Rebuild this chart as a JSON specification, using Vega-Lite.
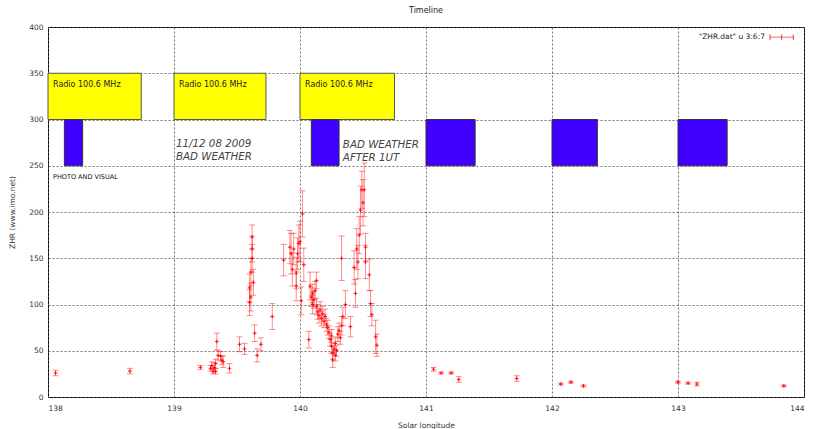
{
  "$schema": "https://vega.github.io/schema/vega-lite/v6.json",
  "width": 756,
  "height": 370,
  "autosize": "none",
  "padding": {"left": 48, "top": 27, "right": 9, "bottom": 32},
  "background": "#ffffff",
  "title": {"text": "Timeline", "fontSize": 8, "fontWeight": "normal", "font": "DejaVu Sans", "color": "#222", "offset": 8},
  "config": {
    "view": {"stroke": "#000", "strokeWidth": 1},
    "axis": {
      "labelFont": "DejaVu Sans", "labelFontSize": 7.5, "labelColor": "#333",
      "titleFont": "DejaVu Sans", "titleFontSize": 7.5, "titleFontWeight": "normal", "titleColor": "#333",
      "grid": true, "gridColor": "#555", "gridDash": [2, 2], "gridWidth": 1, "gridOpacity": 0.8,
      "ticks": false, "domain": false
    }
  },
  "datasets": {
    "zhr": [
      {"sol": 138.06, "zhr": 26, "err": 3},
      {"sol": 138.65, "zhr": 28, "err": 3},
      {"sol": 139.21, "zhr": 32, "err": 2},
      {"sol": 139.29, "zhr": 31, "err": 3},
      {"sol": 139.30, "zhr": 34, "err": 4},
      {"sol": 139.31, "zhr": 28, "err": 3},
      {"sol": 139.32, "zhr": 32, "err": 5},
      {"sol": 139.33, "zhr": 36, "err": 5},
      {"sol": 139.33, "zhr": 28, "err": 3},
      {"sol": 139.34, "zhr": 60, "err": 9},
      {"sol": 139.35, "zhr": 45, "err": 5},
      {"sol": 139.37, "zhr": 44, "err": 5},
      {"sol": 139.38, "zhr": 40, "err": 5},
      {"sol": 139.39, "zhr": 38, "err": 6},
      {"sol": 139.44, "zhr": 31, "err": 5},
      {"sol": 139.52, "zhr": 57, "err": 8},
      {"sol": 139.56, "zhr": 52, "err": 6},
      {"sol": 139.60, "zhr": 118, "err": 15},
      {"sol": 139.60, "zhr": 102, "err": 14},
      {"sol": 139.61, "zhr": 108, "err": 15},
      {"sol": 139.61, "zhr": 135, "err": 15},
      {"sol": 139.62, "zhr": 150, "err": 15},
      {"sol": 139.62, "zhr": 160, "err": 14},
      {"sol": 139.62, "zhr": 173, "err": 13},
      {"sol": 139.63, "zhr": 124, "err": 14},
      {"sol": 139.64, "zhr": 69, "err": 9},
      {"sol": 139.66, "zhr": 45, "err": 7},
      {"sol": 139.69, "zhr": 57, "err": 7},
      {"sol": 139.78, "zhr": 87, "err": 14},
      {"sol": 139.87, "zhr": 148, "err": 17},
      {"sol": 139.92, "zhr": 162, "err": 18},
      {"sol": 139.93, "zhr": 155, "err": 22},
      {"sol": 139.94, "zhr": 138, "err": 18},
      {"sol": 139.95, "zhr": 160, "err": 17},
      {"sol": 139.97, "zhr": 134, "err": 17},
      {"sol": 139.97, "zhr": 120, "err": 16},
      {"sol": 139.98, "zhr": 155, "err": 17},
      {"sol": 139.99, "zhr": 166, "err": 20},
      {"sol": 140.00, "zhr": 168, "err": 22},
      {"sol": 140.01, "zhr": 104, "err": 15},
      {"sol": 140.02, "zhr": 198, "err": 25},
      {"sol": 140.03, "zhr": 143, "err": 18},
      {"sol": 140.07, "zhr": 62, "err": 9},
      {"sol": 140.08, "zhr": 120, "err": 15},
      {"sol": 140.09, "zhr": 108, "err": 10},
      {"sol": 140.10, "zhr": 112, "err": 10},
      {"sol": 140.10, "zhr": 100, "err": 10},
      {"sol": 140.11, "zhr": 105, "err": 9},
      {"sol": 140.12, "zhr": 115, "err": 10},
      {"sol": 140.13, "zhr": 98, "err": 9},
      {"sol": 140.13, "zhr": 126, "err": 9},
      {"sol": 140.14, "zhr": 92, "err": 8},
      {"sol": 140.15, "zhr": 88, "err": 8},
      {"sol": 140.16, "zhr": 94, "err": 9},
      {"sol": 140.17, "zhr": 85, "err": 8},
      {"sol": 140.18, "zhr": 90, "err": 8},
      {"sol": 140.19, "zhr": 82, "err": 7},
      {"sol": 140.20, "zhr": 87, "err": 8},
      {"sol": 140.21, "zhr": 78, "err": 7},
      {"sol": 140.22, "zhr": 75, "err": 8},
      {"sol": 140.23, "zhr": 70, "err": 7},
      {"sol": 140.24, "zhr": 62, "err": 7},
      {"sol": 140.25, "zhr": 55, "err": 8},
      {"sol": 140.25, "zhr": 66, "err": 7},
      {"sol": 140.26, "zhr": 48, "err": 7},
      {"sol": 140.26, "zhr": 40, "err": 8},
      {"sol": 140.27, "zhr": 52, "err": 6},
      {"sol": 140.28, "zhr": 45, "err": 6},
      {"sol": 140.28, "zhr": 58, "err": 7},
      {"sol": 140.29, "zhr": 50, "err": 6},
      {"sol": 140.30, "zhr": 68, "err": 8},
      {"sol": 140.31, "zhr": 72, "err": 8},
      {"sol": 140.32, "zhr": 64, "err": 7},
      {"sol": 140.33, "zhr": 150, "err": 24},
      {"sol": 140.33, "zhr": 77, "err": 10},
      {"sol": 140.34, "zhr": 87, "err": 10},
      {"sol": 140.36, "zhr": 100, "err": 15},
      {"sol": 140.40, "zhr": 76, "err": 11},
      {"sol": 140.43, "zhr": 140, "err": 18},
      {"sol": 140.44, "zhr": 112, "err": 15},
      {"sol": 140.45, "zhr": 160, "err": 22},
      {"sol": 140.46, "zhr": 146, "err": 18},
      {"sol": 140.47, "zhr": 175, "err": 20},
      {"sol": 140.48, "zhr": 202, "err": 26},
      {"sol": 140.49, "zhr": 224, "err": 20},
      {"sol": 140.50, "zhr": 210, "err": 25},
      {"sol": 140.51, "zhr": 224, "err": 29},
      {"sol": 140.52, "zhr": 146, "err": 18},
      {"sol": 140.52, "zhr": 162, "err": 15},
      {"sol": 140.55, "zhr": 132, "err": 17},
      {"sol": 140.56, "zhr": 101, "err": 14},
      {"sol": 140.57, "zhr": 89, "err": 12},
      {"sol": 140.60, "zhr": 65, "err": 18},
      {"sol": 140.61, "zhr": 56, "err": 12},
      {"sol": 141.06, "zhr": 30, "err": 2},
      {"sol": 141.12, "zhr": 26, "err": 1},
      {"sol": 141.20, "zhr": 26, "err": 1},
      {"sol": 141.26, "zhr": 19, "err": 3},
      {"sol": 141.72, "zhr": 20, "err": 3},
      {"sol": 142.07, "zhr": 14, "err": 1},
      {"sol": 142.15, "zhr": 16, "err": 1},
      {"sol": 142.25, "zhr": 12, "err": 1},
      {"sol": 143.00, "zhr": 16, "err": 1},
      {"sol": 143.08, "zhr": 15, "err": 1},
      {"sol": 143.15, "zhr": 14, "err": 2},
      {"sol": 143.84, "zhr": 12, "err": 1}
    ],
    "radio": [
      {"x1": 138.0, "x2": 138.74, "y1": 300, "y2": 350, "label": "Radio 100.6 MHz"},
      {"x1": 139.0, "x2": 139.73, "y1": 300, "y2": 350, "label": "Radio 100.6 MHz"},
      {"x1": 140.0, "x2": 140.75, "y1": 300, "y2": 350, "label": "Radio 100.6 MHz"}
    ],
    "visual": [
      {"x1": 138.13, "x2": 138.275, "y1": 250, "y2": 300},
      {"x1": 140.09, "x2": 140.31, "y1": 250, "y2": 300},
      {"x1": 141.0, "x2": 141.39, "y1": 250, "y2": 300},
      {"x1": 142.0, "x2": 142.36, "y1": 250, "y2": 300},
      {"x1": 143.0, "x2": 143.39, "y1": 250, "y2": 300}
    ],
    "notes": [
      {"x": 139.015, "y": 274, "text": "11/12 08 2009\nBAD WEATHER"},
      {"x": 140.34, "y": 272, "text": "BAD WEATHER\nAFTER 1UT"}
    ]
  },
  "layer": [
    {
      "data": {"name": "radio"},
      "mark": {"type": "rect", "fill": "#ffff00", "stroke": "#555", "strokeWidth": 1},
      "encoding": {
        "x": {"field": "x1", "type": "quantitative", "scale": {"domain": [138, 144], "nice": false, "zero": false},
          "axis": {"values": [138, 139, 140, 141, 142, 143, 144], "title": "Solar longitude", "labelPadding": 7, "titlePadding": 10, "format": "d"}},
        "x2": {"field": "x2"},
        "y": {"field": "y1", "type": "quantitative", "scale": {"domain": [0, 400], "nice": false},
          "axis": {"values": [0, 50, 100, 150, 200, 250, 300, 350, 400], "title": "ZHR (www.imo.net)", "labelPadding": 5, "titlePadding": 12}},
        "y2": {"field": "y2"}
      }
    },
    {
      "data": {"name": "radio"},
      "mark": {"type": "text", "align": "left", "baseline": "middle", "font": "DejaVu Sans", "fontSize": 8, "color": "#222", "dx": 5},
      "encoding": {
        "x": {"field": "x1", "type": "quantitative"},
        "y": {"datum": 337, "type": "quantitative"},
        "text": {"field": "label"}
      }
    },
    {
      "data": {"name": "visual"},
      "mark": {"type": "rect", "fill": "#4000ff", "stroke": "#333", "strokeWidth": 1},
      "encoding": {
        "x": {"field": "x1", "type": "quantitative"},
        "x2": {"field": "x2"},
        "y": {"field": "y1", "type": "quantitative"},
        "y2": {"field": "y2"}
      }
    },
    {
      "data": {"name": "notes"},
      "mark": {"type": "text", "align": "left", "baseline": "middle", "font": "DejaVu Sans", "fontStyle": "italic", "fontSize": 10.3, "color": "#444", "lineBreak": "\n", "lineHeight": 13},
      "encoding": {
        "x": {"field": "x", "type": "quantitative"},
        "y": {"field": "y", "type": "quantitative"},
        "text": {"field": "text"}
      }
    },
    {
      "data": {"values": [{"x": 138.04, "y": 238, "text": "PHOTO AND VISUAL"}]},
      "mark": {"type": "text", "align": "left", "baseline": "middle", "font": "DejaVu Sans", "fontSize": 6.5, "color": "#111"},
      "encoding": {
        "x": {"field": "x", "type": "quantitative"},
        "y": {"field": "y", "type": "quantitative"},
        "text": {"field": "text"}
      }
    },
    {
      "data": {"name": "zhr"},
      "mark": {"type": "errorbar", "ticks": {"size": 6}, "color": "#ff0000", "opacity": 0.45, "thickness": 1},
      "encoding": {
        "x": {"field": "sol", "type": "quantitative", "title": "Solar longitude"},
        "y": {"field": "zhr", "type": "quantitative", "title": "ZHR (www.imo.net)"},
        "yError": {"field": "err"}
      }
    },
    {
      "data": {"name": "zhr"},
      "mark": {"type": "point", "shape": "M-1,0H1M0,-1V1", "size": 14, "filled": false, "stroke": "#ff0000", "strokeWidth": 1, "opacity": 0.9},
      "encoding": {
        "x": {"field": "sol", "type": "quantitative", "title": "Solar longitude"},
        "y": {"field": "zhr", "type": "quantitative", "title": "ZHR (www.imo.net)"}
      }
    },
    {
      "data": {"values": [{"x": 143.69, "y": 389, "text": "\"ZHR.dat\" u 3:6:7"}]},
      "mark": {"type": "text", "align": "right", "baseline": "middle", "font": "DejaVu Sans", "fontSize": 7.5, "color": "#222"},
      "encoding": {
        "x": {"field": "x", "type": "quantitative"},
        "y": {"field": "y", "type": "quantitative"},
        "text": {"field": "text"}
      }
    },
    {
      "data": {"values": [{"x": 143.73, "x2": 143.915, "y": 389}]},
      "mark": {"type": "rule", "color": "#ff0000", "opacity": 0.6, "strokeWidth": 1},
      "encoding": {
        "x": {"field": "x", "type": "quantitative"},
        "x2": {"field": "x2"},
        "y": {"field": "y", "type": "quantitative"}
      }
    },
    {
      "data": {"values": [{"x": 143.73, "y": 389}, {"x": 143.8225, "y": 389}, {"x": 143.915, "y": 389}]},
      "mark": {"type": "point", "shape": "M0,-1V1", "size": 30, "filled": false, "stroke": "#ff0000", "strokeWidth": 1, "opacity": 0.8},
      "encoding": {
        "x": {"field": "x", "type": "quantitative"},
        "y": {"field": "y", "type": "quantitative"}
      }
    }
  ]
}
